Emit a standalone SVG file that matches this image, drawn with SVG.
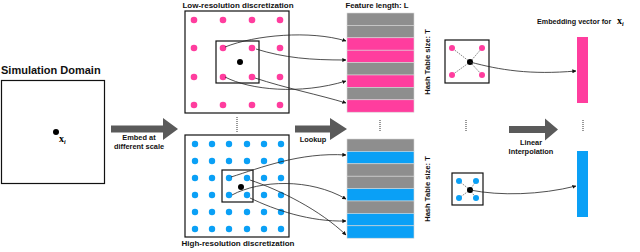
<svg xmlns="http://www.w3.org/2000/svg" width="640" height="252" viewBox="0 0 640 252">
<style>
.t{font-family:"Liberation Sans",Arial,sans-serif;font-weight:bold;fill:#111}
.box{fill:#fff;stroke:#111;stroke-width:1.2}
.pk{fill:#ff3d9e}
.bl{fill:#0aa0f6}
.gr{fill:#8e8e8e}
.row{stroke:#d8d8d8;stroke-width:0.6}
.con{fill:none;stroke:#222;stroke-width:0.8}
.dash{stroke:#333;stroke-width:0.6;stroke-dasharray:1.5,1}
.ell{stroke:#333;stroke-width:1;stroke-dasharray:1,1}
.big{fill:#5a5a5a}
.xv{font-family:"Liberation Serif","Times New Roman",serif;font-weight:bold;fill:#000}
.xi{font-family:"Liberation Serif","Times New Roman",serif;font-style:italic;fill:#000}
</style>
<defs>
<marker id="ah" viewBox="0 0 6 6" refX="5.5" refY="3" markerWidth="4" markerHeight="4" orient="auto" markerUnits="userSpaceOnUse">
<path d="M0,0 L6,3 L0,6 Z" fill="#111"/>
</marker>
</defs>

<g id="simulation-domain">
<text class="t" x="1" y="74" font-size="11">Simulation Domain</text>
<rect class="box" x="1.5" y="80.5" width="103" height="103"/>
<circle cx="56" cy="132" r="3" fill="#000"/>
<text class="xv" x="59" y="142" font-size="10">x<tspan class="xi" font-size="6" dy="2">i</tspan></text>
</g>

<g id="embed-arrow">
<polygon class="big" points="111,125.5 163,125.5 163,118 178,129 163,140 163,132.5 111,132.5"/>
<text class="t" x="139" y="139.5" font-size="7.4" text-anchor="middle">Embed at</text>
<text class="t" x="139" y="149" font-size="7.4" text-anchor="middle">different scale</text>
</g>

<g id="low-res">
<text class="t" x="238" y="8" font-size="8" text-anchor="middle">Low-resolution discretization</text>
<rect class="box" x="185" y="11" width="104" height="102"/>
<g class="pk">
<circle cx="194" cy="20" r="3.3"/><circle cx="223" cy="20" r="3.3"/><circle cx="252" cy="20" r="3.3"/><circle cx="280" cy="20" r="3.3"/>
<circle cx="194" cy="48" r="3.3"/><circle cx="194" cy="77" r="3.3"/><circle cx="280" cy="48" r="3.3"/><circle cx="280" cy="77" r="3.3"/>
<circle cx="194" cy="105" r="3.3"/><circle cx="223" cy="105" r="3.3"/><circle cx="252" cy="105" r="3.3"/><circle cx="280" cy="105" r="3.3"/>
</g>
<rect x="216" y="41" width="43" height="42" fill="none" stroke="#111" stroke-width="1.2"/>
<g class="pk">
<circle cx="223" cy="48" r="3.3"/><circle cx="252" cy="48" r="3.3"/><circle cx="223" cy="77" r="3.3"/><circle cx="252" cy="77" r="3.3"/>
</g>
<circle cx="240" cy="62" r="3" fill="#000"/>
</g>

<g id="high-res">
<rect class="box" x="185" y="135" width="104" height="102"/>
<g class="bl">
<circle cx="195" cy="144" r="3.2"/><circle cx="212" cy="144" r="3.2"/><circle cx="229" cy="144" r="3.2"/><circle cx="247" cy="144" r="3.2"/><circle cx="264" cy="144" r="3.2"/><circle cx="281" cy="144" r="3.2"/>
<circle cx="195" cy="161" r="3.2"/><circle cx="212" cy="161" r="3.2"/><circle cx="229" cy="161" r="3.2"/><circle cx="247" cy="161" r="3.2"/><circle cx="264" cy="161" r="3.2"/><circle cx="281" cy="161" r="3.2"/>
<circle cx="195" cy="178" r="3.2"/><circle cx="212" cy="178" r="3.2"/><circle cx="264" cy="178" r="3.2"/><circle cx="281" cy="178" r="3.2"/>
<circle cx="195" cy="195" r="3.2"/><circle cx="212" cy="195" r="3.2"/><circle cx="264" cy="195" r="3.2"/><circle cx="281" cy="195" r="3.2"/>
<circle cx="195" cy="212" r="3.2"/><circle cx="212" cy="212" r="3.2"/><circle cx="229" cy="212" r="3.2"/><circle cx="247" cy="212" r="3.2"/><circle cx="264" cy="212" r="3.2"/><circle cx="281" cy="212" r="3.2"/>
<circle cx="195" cy="229" r="3.2"/><circle cx="212" cy="229" r="3.2"/><circle cx="229" cy="229" r="3.2"/><circle cx="247" cy="229" r="3.2"/><circle cx="264" cy="229" r="3.2"/><circle cx="281" cy="229" r="3.2"/>
</g>
<rect x="222" y="170" width="31" height="32" fill="none" stroke="#111" stroke-width="1.2"/>
<g class="bl">
<circle cx="229" cy="178" r="3.2"/><circle cx="247" cy="178" r="3.2"/><circle cx="229" cy="195" r="3.2"/><circle cx="247" cy="195" r="3.2"/>
</g>
<circle cx="241" cy="187" r="3" fill="#000"/>
<text class="t" x="238" y="246" font-size="8" text-anchor="middle">High-resolution discretization</text>
</g>

<line id="ellipsis-grid" class="ell" x1="237" y1="117" x2="237" y2="132"/>

<g id="lookup-arrow">
<polygon class="big" points="295,125.5 330,125.5 330,118 347,129 330,140 330,132.5 295,132.5"/>
<text class="t" x="313" y="141.5" font-size="7.4" text-anchor="middle">Lookup</text>
</g>

<g id="hash-table-low">
<text class="t" x="377" y="8" font-size="7.8" text-anchor="middle">Feature length: L</text>
<rect class="gr row" x="347" y="13" width="67" height="12.4"/>
<rect class="gr row" x="347" y="25.4" width="67" height="12.4"/>
<rect class="pk row" x="347" y="37.8" width="67" height="12.4"/>
<rect class="pk row" x="347" y="50.2" width="67" height="12.4"/>
<rect class="gr row" x="347" y="62.6" width="67" height="12.4"/>
<rect class="pk row" x="347" y="75" width="67" height="12.4"/>
<rect class="gr row" x="347" y="87.4" width="67" height="12.4"/>
<rect class="pk row" x="347" y="99.8" width="67" height="12.4"/>
<text class="t" transform="translate(430,62) rotate(-90)" font-size="7.6" text-anchor="middle">Hash Table size: T</text>
</g>

<line id="ellipsis-table" class="ell" x1="380" y1="120" x2="380" y2="132"/>

<g id="hash-table-high">
<rect class="gr row" x="347" y="139" width="67" height="12.4"/>
<rect class="bl row" x="347" y="151.4" width="67" height="12.4"/>
<rect class="gr row" x="347" y="163.8" width="67" height="12.4"/>
<rect class="gr row" x="347" y="176.2" width="67" height="12.4"/>
<rect class="bl row" x="347" y="188.6" width="67" height="12.4"/>
<rect class="gr row" x="347" y="201" width="67" height="12.4"/>
<rect class="bl row" x="347" y="213.4" width="67" height="12.4"/>
<rect class="bl row" x="347" y="225.8" width="67" height="12.4"/>
<text class="t" transform="translate(430,189) rotate(-90)" font-size="7.6" text-anchor="middle">Hash Table size: T</text>
</g>

<g id="interp-low">
<rect class="box" x="445" y="40" width="44" height="43"/>
<line class="dash" x1="470" y1="62" x2="452" y2="48"/><line class="dash" x1="470" y1="62" x2="482" y2="48"/>
<line class="dash" x1="470" y1="62" x2="452" y2="75"/><line class="dash" x1="470" y1="62" x2="482" y2="75"/>
<g class="pk"><circle cx="452" cy="48" r="3"/><circle cx="482" cy="48" r="3"/><circle cx="452" cy="75" r="3"/><circle cx="482" cy="75" r="3"/></g>
<circle cx="470" cy="62" r="3" fill="#000"/>
</g>

<line id="ellipsis-interp" class="ell" x1="466" y1="120" x2="466" y2="131"/>

<g id="interp-high">
<rect class="box" x="452" y="173" width="31" height="32"/>
<line class="dash" x1="470" y1="190" x2="459" y2="181"/><line class="dash" x1="470" y1="190" x2="476" y2="181"/>
<line class="dash" x1="470" y1="190" x2="459" y2="198"/><line class="dash" x1="470" y1="190" x2="476" y2="198"/>
<g class="bl"><circle cx="459" cy="181" r="3"/><circle cx="476" cy="181" r="3"/><circle cx="459" cy="198" r="3"/><circle cx="476" cy="198" r="3"/></g>
<circle cx="470" cy="190" r="3" fill="#000"/>
</g>

<g id="interp-arrow">
<polygon class="big" points="509,126 545,126 545,118.5 558,129.5 545,140.5 545,133 509,133"/>
<text class="t" x="531" y="144.5" font-size="7.4" text-anchor="middle">Linear</text>
<text class="t" x="531" y="153.5" font-size="7.4" text-anchor="middle">Interpolation</text>
</g>

<g id="embedding-vector">
<text class="t" x="537" y="24" font-size="7.2">Embedding vector for</text>
<text class="xv" x="617" y="24" font-size="10">x<tspan class="xi" font-size="6" dy="2">i</tspan></text>
<rect class="pk" x="577" y="37" width="11" height="66"/>
<line class="ell" x1="583" y1="120" x2="583" y2="131"/>
<rect class="bl" x="577" y="151" width="11" height="66"/>
</g>

<g id="connectors">
<path class="con" marker-end="url(#ah)" d="M225,47 C255,35 310,30 346,41"/>
<path class="con" marker-end="url(#ah)" d="M256,49 C285,58 310,60 346,60"/>
<path class="con" marker-end="url(#ah)" d="M225,77 C250,90 300,95 346,81"/>
<path class="con" marker-end="url(#ah)" d="M255,78 C285,88 320,95 346,103"/>
<path class="con" marker-end="url(#ah)" d="M231,177 C260,168 300,152 346,155"/>
<path class="con" marker-end="url(#ah)" d="M232,195 C260,180 310,178 346,199"/>
<path class="con" marker-end="url(#ah)" d="M250,180 C280,190 320,210 346,235"/>
<path class="con" marker-end="url(#ah)" d="M250,198 C275,210 310,222 346,221"/>
<path class="con" marker-end="url(#ah)" d="M470,62 C500,70 530,75 576,71"/>
<path class="con" marker-end="url(#ah)" d="M470,190 C500,196 540,195 576,186"/>
</g>
</svg>
